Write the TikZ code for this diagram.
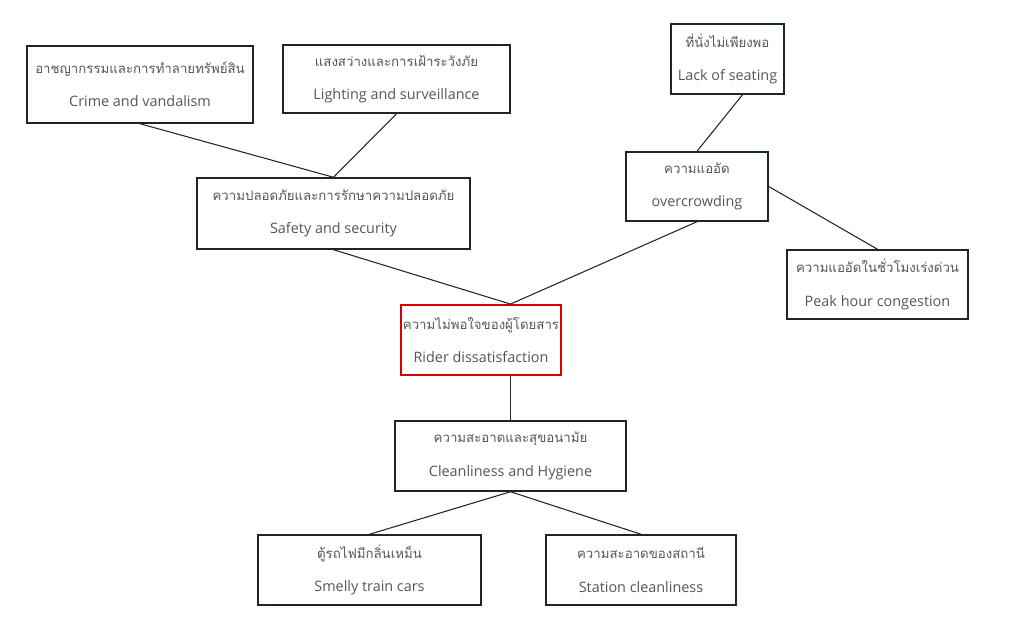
\documentclass[tikz,border=0pt]{standalone}
\usepackage{fontspec}
\setmainfont{Open Sans}
\newfontfamily\thai[Script=Thai,Scale=0.92]{Loma}
\usetikzlibrary{calc}
\definecolor{txtgray}{HTML}{555555}
\definecolor{boxline}{HTML}{1C2626}
\tikzset{box/.style={draw=boxline,line width=1.1pt,rectangle,inner sep=0.5pt,minimum height=52.5pt,text=txtgray,align=center,font=\fontsize{10.8}{25}\selectfont},
redbox/.style={box,draw=red!85!black,line width=1.4pt},
link/.style={draw=black!85,line width=0.8pt}}

\begin{document}
\begin{tikzpicture}[x=0.75pt,y=-0.75pt]
\useasboundingbox(0,0)rectangle(1024,627);
% upper left branch
\node[box,minimum width=169.5pt,minimum height=57.75pt](crime)at(140,84.5){{\thai อาชญากรรมและการทำลายทรัพย์สิน}\\Crime and vandalism};
\node[box,minimum width=170.25pt,minimum height=51pt](light)at(396.5,79){{\thai แสงสว่างและการเฝ้าระวังภัย}\\Lighting and surveillance};
\node[box,minimum width=204.75pt,minimum height=53.25pt](safety)at(333.5,213.5){{\thai ความปลอดภัยและการรักษาความปลอดภัย}\\Safety and security};
% upper right branch
\node[box,minimum width=84.75pt](seat)at(727.5,59){{\thai ที่นั่งไม่เพียงพอ}\\Lack of seating};
\node[box,minimum width=106.5pt,minimum height=51.75pt](crowd)at(697,186.5){{\thai ความแออัด}\\overcrowding};
\node[box,minimum width=135.75pt,minimum height=51.75pt](peak)at(877.5,284.5){{\thai ความแออัดในชั่วโมงเร่งด่วน}\\Peak hour congestion};
% centre
\node[redbox,minimum width=120pt](rider)at(481,340){{\thai ความไม่พอใจของผู้โดยสาร}\\Rider dissatisfaction};
% lower branch
\node[box,minimum width=173.25pt](clean)at(510.5,456){{\thai ความสะอาดและสุขอนามัย}\\Cleanliness and Hygiene};
\node[box,minimum width=167.25pt](smelly)at(369.5,570){{\thai ตู้รถไฟมีกลิ่นเหม็น}\\Smelly train cars};
\node[box,minimum width=142.5pt](station)at(641,570){{\thai ความสะอาดของสถานี}\\Station cleanliness};
\coordinate(rtop)at(rider.north-|clean.north);\coordinate(rbot)at(rider.south-|clean.north);
\draw[link](crime.south)--(safety.north);\draw[link](light.south)--(safety.north);
\draw[link](safety.south)--(rtop);\draw[link](crowd.south)--(rtop);
\draw[link]([xshift=11.25pt]seat.south)--(crowd.north);\draw[link](crowd.east)--(peak.north);
\draw[link](rbot)--(clean.north);
\draw[link](clean.south)--(smelly.north);\draw[link](clean.south)--(station.north);
\end{tikzpicture}
\end{document}
